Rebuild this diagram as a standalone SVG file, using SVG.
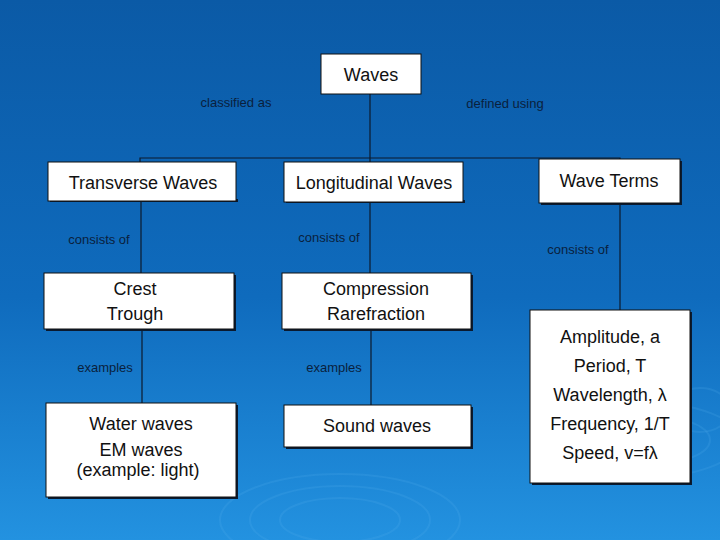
<svg xmlns="http://www.w3.org/2000/svg" width="720" height="540" viewBox="0 0 720 540">
<defs>
<linearGradient id="bg" x1="0" y1="0" x2="0" y2="1">
<stop offset="0" stop-color="#0b5aa6"/>
<stop offset="0.55" stop-color="#0f6bbd"/>
<stop offset="1" stop-color="#2392e0"/>
</linearGradient>
<style>
.box{fill:#ffffff;stroke:#111111;stroke-width:1}
.sh{fill:#0a1a30}
.t{font-family:"Liberation Sans",Arial,sans-serif;font-size:18px;fill:#111111;text-anchor:middle}
.l{font-family:"Liberation Sans",Arial,sans-serif;font-size:13px;fill:#0a1f3d;text-anchor:middle}
.c{stroke:#0d1a2c;stroke-width:1.2;fill:none}
.r{fill:none;stroke:#5ab0ee;stroke-opacity:0.18;stroke-width:2}
</style>
</defs>
<rect width="720" height="540" fill="url(#bg)"/>
<g id="ripples">
<ellipse class="r" cx="340" cy="520" rx="60" ry="22"/>
<ellipse class="r" cx="340" cy="520" rx="90" ry="34"/>
<ellipse class="r" cx="340" cy="520" rx="120" ry="46"/>
<ellipse class="r" cx="640" cy="440" rx="70" ry="26"/>
<ellipse class="r" cx="640" cy="440" rx="100" ry="38"/>
<ellipse class="r" cx="700" cy="410" rx="30" ry="22"/>
</g>
<g id="connectors">
<path class="c" d="M370 94 V162"/>
<path class="c" d="M140 201 V158 H620 V159"/>
<path class="c" d="M141 201 V273"/>
<path class="c" d="M370 202 V273"/>
<path class="c" d="M620 203 V310"/>
<path class="c" d="M142 329 V403"/>
<path class="c" d="M371 329 V405"/>
<text class="l" x="236" y="107">classified as</text>
<text class="l" x="505" y="108">defined using</text>
<text class="l" x="99" y="244">consists of</text>
<text class="l" x="329" y="242">consists of</text>
<text class="l" x="578" y="254">consists of</text>
<text class="l" x="105" y="372">examples</text>
<text class="l" x="334" y="372">examples</text>
</g>
<g id="waves">
<rect class="box" x="321" y="54" width="100" height="40"/>
<text class="t" x="371" y="81">Waves</text>
</g>
<g id="transverse">
<rect class="sh" x="50" y="199" width="188" height="3"/>
<rect class="box" x="48" y="162" width="188" height="39"/>
<text class="t" x="143" y="189">Transverse Waves</text>
</g>
<g id="longitudinal">
<rect class="sh" x="286" y="200" width="179" height="3"/>
<rect class="box" x="284" y="162" width="179" height="40"/>
<text class="t" x="374" y="189">Longitudinal Waves</text>
</g>
<g id="waveterms">
<rect class="sh" x="541" y="161" width="141" height="44"/>
<rect class="box" x="539" y="159" width="141" height="44"/>
<text class="t" x="609" y="187">Wave Terms</text>
</g>
<g id="crest">
<rect class="sh" x="46" y="275" width="190" height="56"/>
<rect class="box" x="44" y="273" width="190" height="56"/>
<text class="t" x="135" y="295">Crest</text>
<text class="t" x="135" y="320">Trough</text>
</g>
<g id="compression">
<rect class="sh" x="284" y="275" width="189" height="56"/>
<rect class="box" x="282" y="273" width="189" height="56"/>
<text class="t" x="376" y="295">Compression</text>
<text class="t" x="376" y="320">Rarefraction</text>
</g>
<g id="examples-transverse">
<rect class="sh" x="48" y="405" width="190" height="94"/>
<rect class="box" x="46" y="403" width="190" height="94"/>
<text class="t" x="141" y="430">Water waves</text>
<text class="t" x="141" y="456">EM waves</text>
<text class="t" x="138" y="476">(example: light)</text>
</g>
<g id="sound">
<rect class="sh" x="286" y="407" width="187" height="42"/>
<rect class="box" x="284" y="405" width="187" height="42"/>
<text class="t" x="377" y="432">Sound waves</text>
</g>
<g id="terms">
<rect class="sh" x="532" y="312" width="160" height="173"/>
<rect class="box" x="530" y="310" width="160" height="173"/>
<text class="t" x="610" y="343">Amplitude, a</text>
<text class="t" x="610" y="372">Period, T</text>
<text class="t" x="610" y="401">Wavelength, λ</text>
<text class="t" x="610" y="430">Frequency, 1/T</text>
<text class="t" x="610" y="459">Speed, v=fλ</text>
</g>
</svg>
